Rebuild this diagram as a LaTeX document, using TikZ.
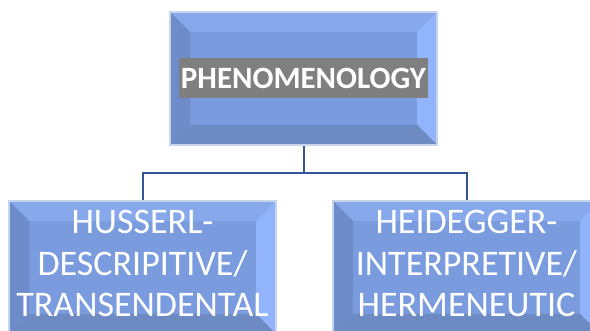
\documentclass[tikz,border=0pt]{standalone}
\usepackage{fontspec}
\setmainfont{Carlito}
\usepackage{xcolor}
\definecolor{phnFace}{RGB}{122,156,222}
\definecolor{phnTop}{RGB}{136,168,236}
\definecolor{phnRight}{RGB}{146,180,252}
\definecolor{phnLeft}{RGB}{110,140,202}
\definecolor{phnBottom}{RGB}{110,138,194}
\definecolor{phnRim}{RGB}{200,212,236}
\definecolor{phnLine}{RGB}{52,86,150}
\definecolor{phnGrey}{RGB}{127,127,127}
\newdimen\phnBevel
\phnBevel=20pt
\newcommand{\phnHighlight}[1]{{\setlength{\fboxsep}{0pt}\colorbox{phnGrey}{\rule[-10pt]{0pt}{40pt}\hspace{2pt}#1\hspace{2pt}}}}
\newcommand{\phnBig}{\fontsize{36}{41.5}\selectfont}
\tikzset{
  bevelbox/.style={rectangle, minimum width=267pt, minimum height=133pt, inner sep=0pt,
    fill=phnFace, draw=phnRim, line width=2pt, text=white, align=center,
    path picture={
      \coordinate (pnw) at (path picture bounding box.north west);
      \coordinate (pne) at (path picture bounding box.north east);
      \coordinate (psw) at (path picture bounding box.south west);
      \coordinate (pse) at (path picture bounding box.south east);
      \fill[phnTop] (pnw) -- (pne) -- ([xshift=-\phnBevel,yshift=-\phnBevel]pne) -- ([xshift=\phnBevel,yshift=-\phnBevel]pnw) -- cycle;
      \fill[phnRight] (pne) -- (pse) -- ([xshift=-\phnBevel,yshift=\phnBevel]pse) -- ([xshift=-\phnBevel,yshift=-\phnBevel]pne) -- cycle;
      \fill[phnBottom] (pse) -- (psw) -- ([xshift=\phnBevel,yshift=\phnBevel]psw) -- ([xshift=-\phnBevel,yshift=\phnBevel]pse) -- cycle;
      \fill[phnLeft] (psw) -- (pnw) -- ([xshift=\phnBevel,yshift=-\phnBevel]pnw) -- ([xshift=\phnBevel,yshift=\phnBevel]psw) -- cycle;
    }},
  bigbox/.style={bevelbox, font=\phnBig, text depth=8pt},
  conn/.style={draw=phnLine, line width=2pt}
}
\begin{document}
\begin{tikzpicture}[x=1pt,y=-1pt]
\useasboundingbox (0,0) rectangle (590,331);
\clip (0,0) rectangle (590,331);
\node[bevelbox, font=\fontsize{31}{36}\selectfont\bfseries] (phen) at (303.5,78.5) {\phnHighlight{PHENOMENOLOGY}};
\node[bigbox] (huss) at (142.5,267.5) {HUSSERL-\\DESCRIPITIVE/\\TRANSENDENTAL};
\node[bigbox] (heid) at (466.5,267.5) {HEIDEGGER-\\INTERPRETIVE/\\HERMENEUTIC};
\coordinate (fork) at (303.5,173);
\draw[conn] (phen.south) -- (fork);
\draw[conn] (fork) -| (huss.north);
\draw[conn] (fork) -| (heid.north);
\end{tikzpicture}
\end{document}
